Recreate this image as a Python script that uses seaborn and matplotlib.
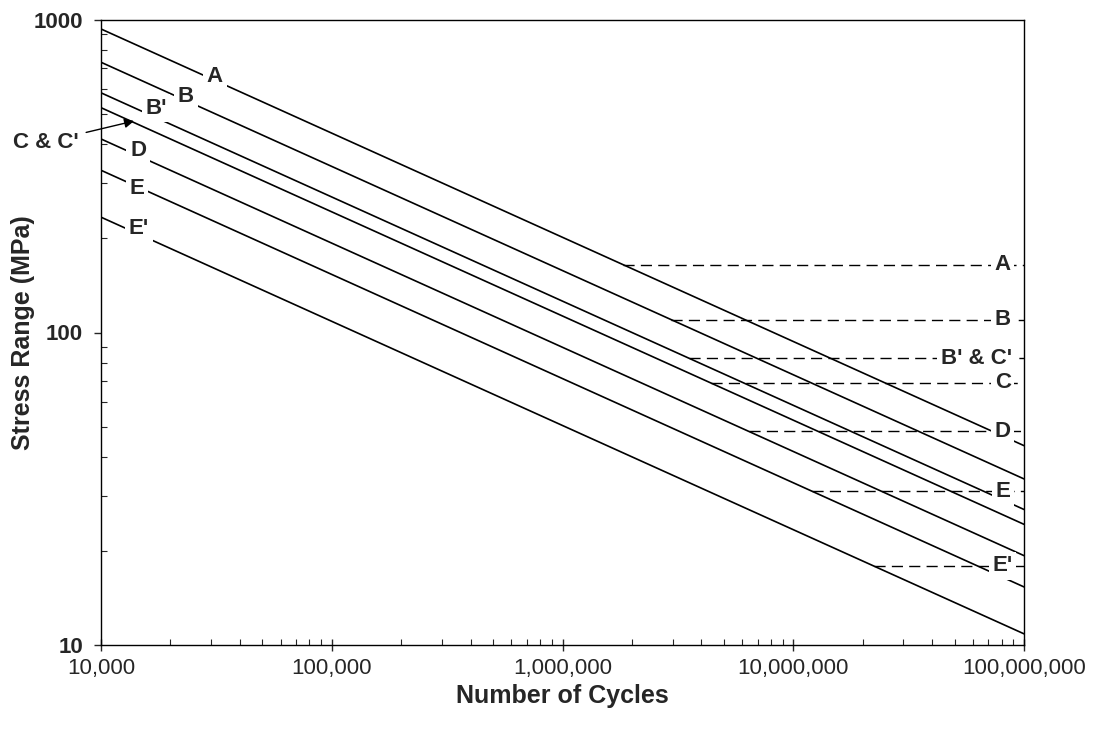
import numpy as np
import pandas as pd
import matplotlib
matplotlib.use("Agg")
import matplotlib.pyplot as plt
from matplotlib.ticker import FuncFormatter, LogLocator, NullFormatter
import seaborn as sns

# Detail categories and their S-N constants (x 1e11 MPa^3), slope m = 3
categories = ["A", "B", "B'", "C", "D", "E", "E'"]
constants_e11 = [82.0, 39.3, 20.0, 14.4, 7.21, 3.61, 1.28]

# Constant-amplitude fatigue thresholds (MPa); B' and C' share one value
threshold_labels = ["A", "B", "B' & C'", "C", "D", "E", "E'"]
threshold_mpa = [165.0, 110.0, 82.7, 69.0, 48.3, 31.0, 17.9]

cycle_limits = [1e4, 1e8]
x_ticks = [1e4, 1e5, 1e6, 1e7, 1e8]
y_ticks = [10, 100, 1000]

sns.set_style("ticks")
plt.rcParams["font.family"] = ["Liberation Sans", "DejaVu Sans"]

# Sloped S-N lines: S = (A / N)^(1/3)
rows = []
for cat, c in zip(categories, constants_e11):
    for n in cycle_limits:
        rows.append({"cat": cat, "N": n, "S": (c * 1e11 / n) ** (1.0 / 3.0)})
sn = pd.DataFrame(rows)

# Horizontal threshold lines from the S-N line out to 1e8 cycles
rows = []
for lab, c, t in zip(threshold_labels, constants_e11, threshold_mpa):
    rows.append({"cat": lab, "N": c * 1e11 / t ** 3, "S": t})
    rows.append({"cat": lab, "N": cycle_limits[1], "S": t})
caft = pd.DataFrame(rows)

fig = plt.figure(figsize=(10.96, 7.30), dpi=100)
ax = fig.add_axes([101 / 1096, 85 / 730, 923 / 1096, 625 / 730])
ax.set_xscale("log")
ax.set_yscale("log")

sns.lineplot(data=caft, x="N", y="S", units="cat", estimator=None,
             color="black", lw=1.0, dashes=False, ax=ax, zorder=2,
             linestyle=(0, (8, 4.5)))
sns.lineplot(data=sn, x="N", y="S", units="cat", estimator=None,
             color="black", lw=1.2, ax=ax, zorder=3)

ax.set_xlim(cycle_limits)
ax.set_ylim(y_ticks[0], y_ticks[-1])

ax.xaxis.set_minor_locator(LogLocator(base=10, subs=np.arange(2, 10), numticks=20))
ax.yaxis.set_minor_locator(LogLocator(base=10, subs=np.arange(2, 10), numticks=20))
ax.set_xticks(x_ticks)
ax.set_yticks(y_ticks)
ax.xaxis.set_major_formatter(FuncFormatter(lambda v, _: f"{int(round(v)):,}"))
ax.yaxis.set_major_formatter(FuncFormatter(lambda v, _: f"{int(round(v))}"))
ax.xaxis.set_minor_formatter(NullFormatter())
ax.yaxis.set_minor_formatter(NullFormatter())

ax.tick_params(axis="x", which="major", direction="inout", length=9, width=1,
               labelsize=16, pad=5)
ax.tick_params(axis="x", which="minor", direction="in", length=4, width=0.8)
ax.tick_params(axis="y", which="major", direction="out", length=5, width=1,
               labelsize=16, pad=8)
ax.tick_params(axis="y", which="minor", direction="in", length=4, width=0.8)
for lbl in ax.get_yticklabels():
    lbl.set_fontweight("bold")

for side in ["left", "right", "top", "bottom"]:
    ax.spines[side].set_visible(True)
    ax.spines[side].set_linewidth(1.0)
    ax.spines[side].set_color("black")

ax.set_xlabel("Number of Cycles", fontsize=18, fontweight="bold")
ax.set_ylabel("Stress Range (MPa)", fontsize=18, fontweight="bold")
ax.xaxis.set_label_coords(0.5, -0.062)
ax.yaxis.set_label_coords(-0.071, 0.5)

box = dict(facecolor="white", edgecolor="none", pad=2.5)
label_kw = dict(fontsize=16, fontweight="bold", ha="center", va="center",
                bbox=box, zorder=5)

# Category labels at the left end of the S-N lines
left_pos = {"A": (0.1235, 0.9088), "B": (0.0921, 0.8784), "B'": (0.0596, 0.8592),
            "D": (0.0401, 0.792), "E": (0.039, 0.7312), "E'": (0.0412, 0.6656)}
for cat in categories:
    if cat in left_pos:
        ax.text(*left_pos[cat], cat, transform=ax.transAxes, **label_kw)

ax.annotate("C & C'", xy=(0.0358, 0.8384), xycoords="axes fraction",
            xytext=(-0.0596, 0.8048), textcoords="axes fraction",
            fontsize=16, fontweight="bold", ha="center", va="center",
            annotation_clip=False,
            arrowprops=dict(arrowstyle="-|>", color="black", lw=1.0,
                            mutation_scale=14, shrinkA=3, shrinkB=0))

# Threshold labels at the right end of the dashed lines
ytrans = ax.get_yaxis_transform()
for lab, t in zip(threshold_labels, threshold_mpa):
    if lab == "B' & C'":
        ax.text(0.987, t, lab, transform=ytrans,
                **{**label_kw, "ha": "right"})
    else:
        ax.text(0.977, t, lab, transform=ytrans, **label_kw)

fig.savefig("out.png", dpi=100, facecolor="white")
